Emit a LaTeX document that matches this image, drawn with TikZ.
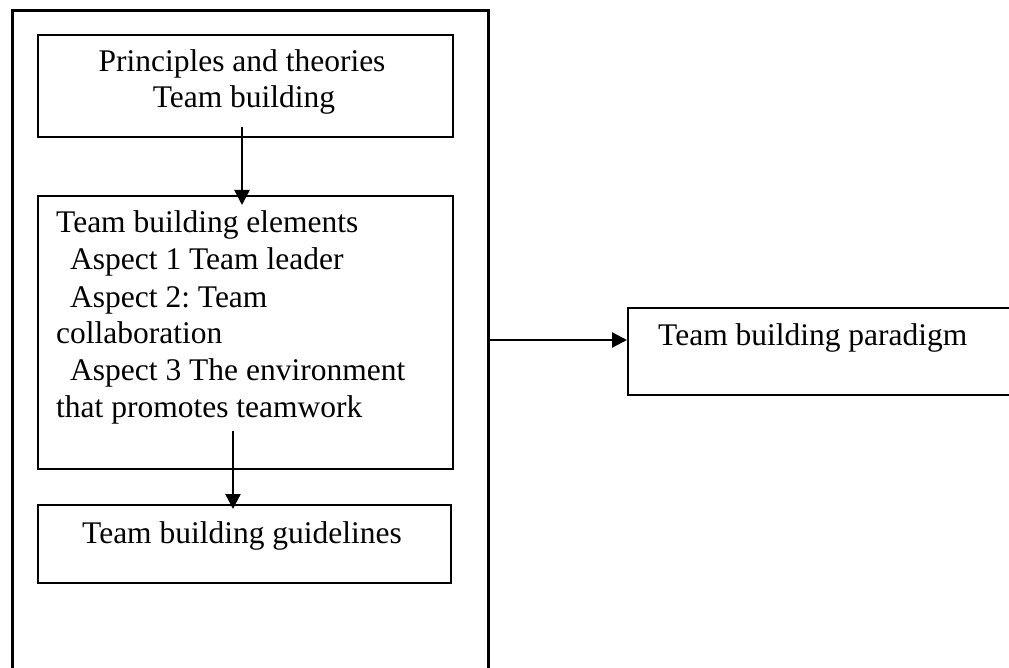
\documentclass[tikz,border=0pt]{standalone}
\usepackage{fontspec}
\setmainfont{Liberation Serif}
\frenchspacing
\usetikzlibrary{arrows.meta}
\begin{document}
\begin{tikzpicture}[x=1pt,y=-1pt,
  box/.style={draw=black,line width=2pt,inner sep=0,anchor=north west},
  txt/.style={inner sep=0,anchor=base west,font=\fontsize{31.5}{37}\selectfont},
  ctxt/.style={inner sep=0,anchor=base,font=\fontsize{31.5}{37}\selectfont},
  arr/.style={line width=2.4pt,-{Triangle[length=15pt,width=15pt]}}]
\useasboundingbox (0,0) rectangle (1009,668);
\fill[white] (0,0) rectangle (1009,668);
\draw[line width=3pt] (12,690) -- (12,10.5) -- (488.5,10.5) -- (488.5,690);
\node[box,minimum width=415pt,minimum height=102pt] (b1) at (37,34) {};
\node[box,minimum width=415pt,minimum height=273pt] (b2) at (37,195) {};
\node[box,minimum width=413pt,minimum height=78pt] (b3) at (37,504) {};
\node[box,minimum width=400pt,minimum height=87pt] (b4) at (627,307) {};
\node[ctxt] (t1a) at (242,72) {Principles and theories};
\node[ctxt] (t1b) at (244,108) {Team building};
\node[txt] (t2a) at (56,233) {Team building elements};
\node[txt] (t2b) at (70,270) {Aspect 1 Team leader};
\node[txt] (t2c) at (70,307) {Aspect 2: Team};
\node[txt] (t2d) at (56,343) {collaboration};
\node[txt] (t2e) at (70,380) {Aspect 3 The environment};
\node[txt] (t2f) at (56,417) {that promotes teamwork};
\node[txt] (t3) at (82,543) {Team building guidelines};
\node[txt] (t4) at (658,345) {Team building paradigm};
\coordinate (a1s) at (242,127);
\coordinate (a1e) at (242,205);
\coordinate (a2s) at (233,431);
\coordinate (a2e) at (233,509);
\coordinate (a3s) at (488.5,340);
\draw[arr] (a1s) -- (a1e);
\draw[arr] (a2s) -- (a2e);
\draw[arr] (a3s) -- (b4.west |- a3s);
\end{tikzpicture}
\end{document}
